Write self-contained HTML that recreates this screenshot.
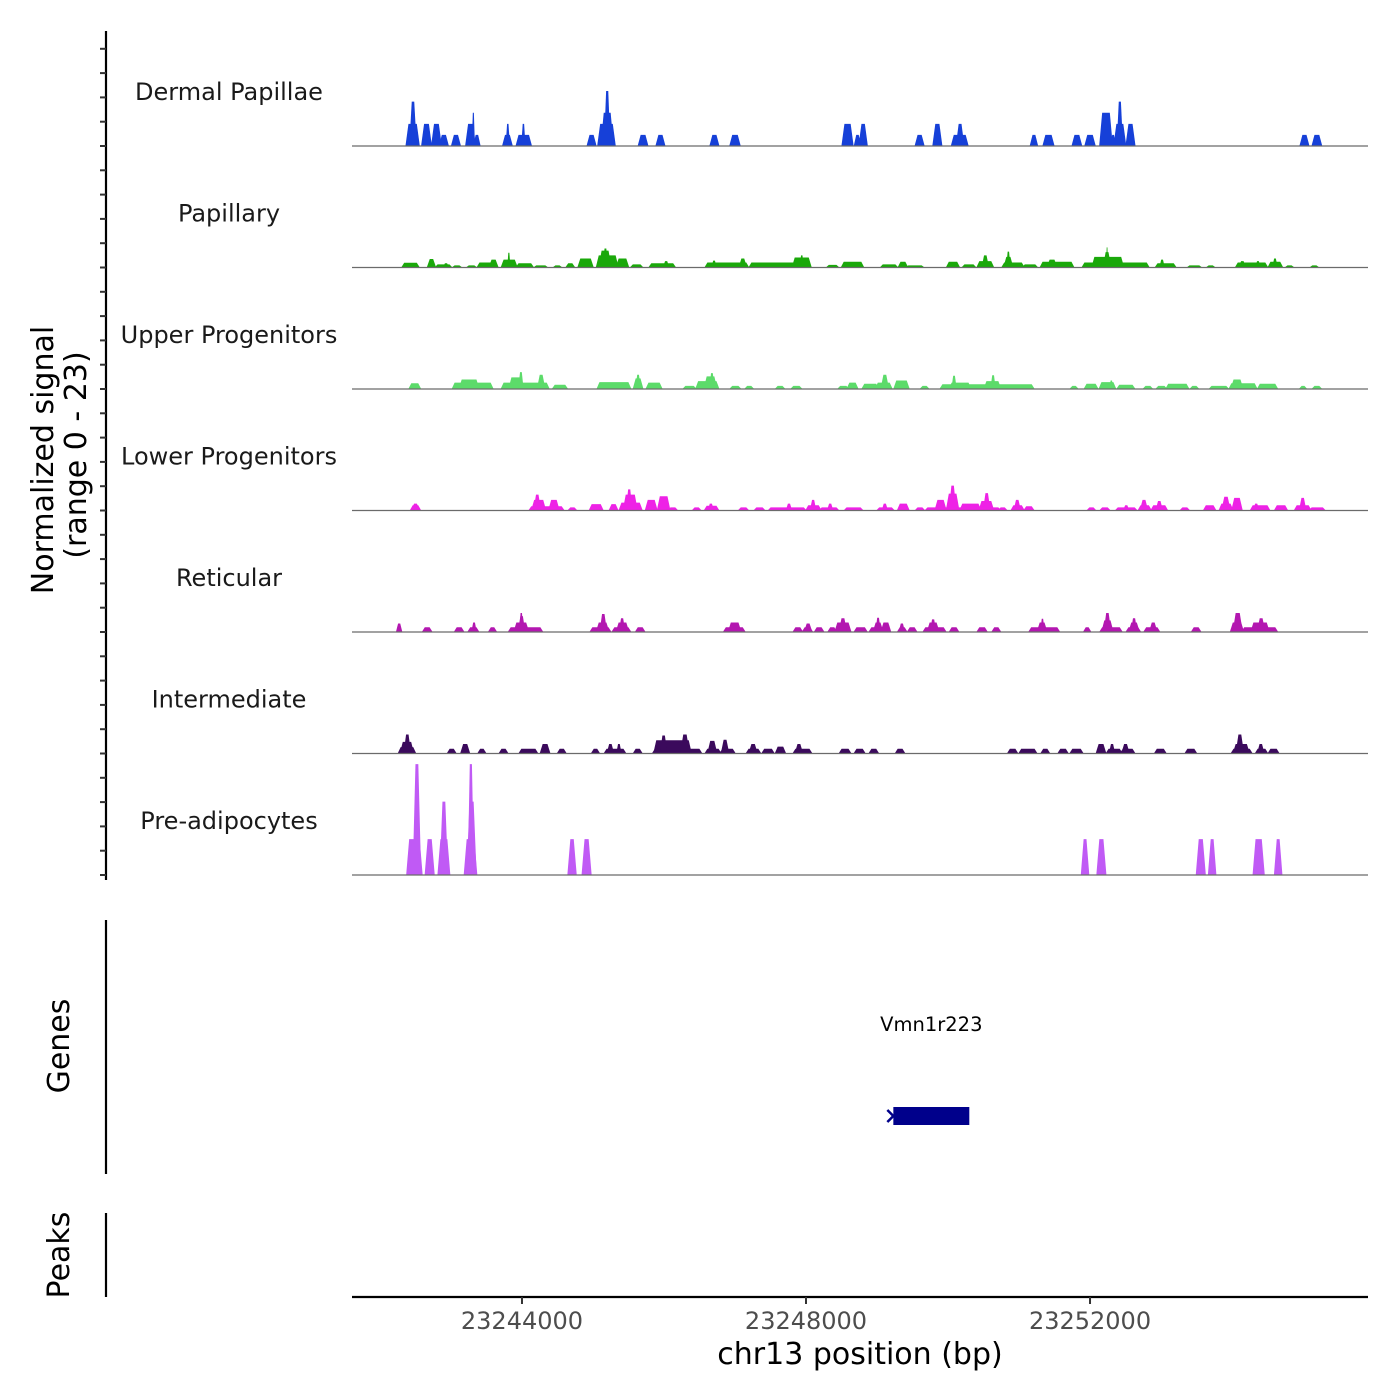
<!DOCTYPE html>
<html><head><meta charset="utf-8"><style>
html,body{margin:0;padding:0;background:#fff;}
svg{display:block;font-family:"DejaVu Sans","Liberation Sans",sans-serif;}
</style></head><body>
<svg id="chart" width="1400" height="1400" viewBox="0 0 1400 1400" xmlns="http://www.w3.org/2000/svg">
<g id="axes"></g>
<g id="tracks"></g>
<g id="genes"></g>
</svg>
<script>
// ---- data (positions in kb offset from 23,240,000 bp; values in normalized signal) ----
const regionStartKb = 1.606;
const regionEndKb = 15.915;
const baseBp = 23240000;
const xTicksBp = [23244000, 23248000, 23252000];
const yMax = 23;
const trackNames = ["Dermal Papillae","Papillary","Upper Progenitors","Lower Progenitors","Reticular","Intermediate","Pre-adipocytes"];
const trackColors = ["#1640d8","#1aa80a","#5cdb6a","#ee22e6","#b317b0","#3b0a5c","#c05af5"];

const dermalPapillae = [[2.38,2.54,4.2],[2.43,2.50,8.4],[2.60,2.71,4.2],[2.74,2.85,4.2],[2.85,2.95,2.1],[3.02,3.12,2.1],[3.22,3.33,4.2],[3.30,3.33,6.3],[3.33,3.40,2.1],[3.74,3.85,2.1],[3.78,3.82,4.2],[3.93,4.12,2.1],[4.00,4.04,4.2],[4.93,5.03,2.1],[5.08,5.30,4.2],[5.13,5.27,6.3],[5.17,5.23,10.4],[5.65,5.76,2.1],[5.90,6.00,2.1],[6.66,6.76,2.1],[6.94,7.06,2.1],[8.52,8.65,4.2],[8.69,8.76,2.1],[8.76,8.85,4.2],[9.55,9.65,2.1],[9.80,9.90,4.2],[10.06,10.27,2.1],[10.13,10.21,4.2],[11.17,11.25,2.1],[11.35,11.48,2.1],[11.76,11.87,2.1],[11.94,12.06,2.1],[12.15,12.30,6.3],[12.30,12.35,2.1],[12.35,12.49,4.2],[12.39,12.45,8.4],[12.52,12.62,4.2],[14.97,15.07,2.1],[15.14,15.25,2.1]];

const papillary = [[2.32,2.54,0.9],[2.68,2.77,1.6],[2.79,3.00,0.6],[2.90,2.96,0.8],[3.03,3.14,0.4],[3.23,3.35,0.4],[3.38,3.65,0.95],[3.55,3.65,1.5],[3.72,3.92,1.5],[3.80,3.83,2.8],[3.93,4.15,0.8],[4.18,4.35,0.4],[4.45,4.55,0.4],[4.63,4.73,0.8],[4.80,4.99,1.7],[5.06,5.34,2.3],[5.10,5.24,3.2],[5.15,5.20,3.6],[5.34,5.49,1.7],[5.54,5.69,0.6],[5.80,6.15,0.8],[6.00,6.06,1.2],[6.59,7.18,0.95],[6.68,6.73,1.3],[7.07,7.15,1.7],[7.21,8.06,0.95],[7.82,8.06,1.9],[7.92,7.96,2.3],[8.30,8.45,0.5],[8.51,8.80,1.1],[9.06,9.28,0.6],[9.31,9.42,1.1],[9.42,9.65,0.4],[9.99,10.15,1.1],[10.21,10.38,0.6],[10.42,10.63,1.2],[10.49,10.56,2.3],[10.77,11.06,0.95],[10.80,10.90,2.0],[10.83,10.87,3.0],[11.06,11.25,0.6],[11.31,11.76,1.1],[11.41,11.52,1.5],[11.90,12.82,0.95],[12.04,12.46,2.0],[12.20,12.28,2.9],[12.23,12.25,3.8],[12.93,13.20,0.8],[12.99,13.04,1.5],[13.38,13.56,0.4],[13.65,13.75,0.4],[14.06,14.49,0.95],[14.11,14.18,1.2],[14.34,14.39,1.2],[14.52,14.70,1.1],[14.58,14.63,1.7],[14.76,14.86,0.4],[15.11,15.21,0.4]];

const upperProgenitors = [[2.42,2.56,1.1],[3.03,3.58,1.2],[3.13,3.38,1.8],[3.72,4.37,1.2],[3.83,4.00,2.2],[3.96,4.01,3.2],[4.23,4.31,2.7],[4.44,4.63,0.8],[5.07,5.52,1.3],[5.58,5.69,2.0],[5.61,5.66,2.7],[5.76,5.96,1.2],[6.28,6.44,0.6],[6.46,6.76,1.5],[6.58,6.73,2.4],[6.65,6.70,3.0],[6.94,7.07,0.6],[7.15,7.25,0.6],[7.58,7.69,0.6],[7.80,7.93,0.6],[8.46,8.59,0.6],[8.59,8.72,1.2],[8.80,9.01,1.0],[8.99,9.20,1.2],[9.07,9.15,2.7],[9.25,9.44,1.6],[9.62,9.72,0.6],[9.90,11.20,0.9],[10.03,10.31,1.2],[10.06,10.11,2.5],[10.52,10.73,1.5],[10.61,10.66,2.6],[11.73,11.82,0.6],[11.93,12.10,1.0],[12.14,12.35,1.3],[12.28,12.32,1.6],[12.39,12.62,0.8],[12.76,12.87,0.6],[12.94,13.07,0.6],[13.08,13.38,1.0],[13.42,13.52,0.6],[13.69,13.94,0.6],[13.97,14.34,1.1],[14.00,14.14,1.8],[14.37,14.63,1.0],[14.96,15.04,0.6],[15.14,15.25,0.6]];

const lowerProgenitors = [[2.44,2.56,1.0],[2.46,2.54,1.3],[4.11,4.58,0.8],[4.15,4.32,2.0],[4.18,4.25,3.0],[4.39,4.51,2.0],[4.66,4.76,0.6],[4.96,5.13,1.2],[5.24,5.34,1.2],[5.38,5.68,1.5],[5.44,5.61,3.0],[5.48,5.54,4.0],[5.75,5.89,2.0],[5.92,6.07,2.7],[6.07,6.18,0.6],[6.41,6.51,0.6],[6.58,6.76,0.9],[6.63,6.69,1.3],[7.06,7.18,0.6],[7.28,7.41,0.6],[7.48,7.99,0.6],[7.73,7.79,1.3],[8.01,8.20,1.0],[8.07,8.13,2.0],[8.20,8.45,0.6],[8.31,8.37,1.3],[8.55,8.79,0.6],[9.01,9.23,0.6],[9.08,9.14,1.3],[9.30,9.44,1.3],[9.55,9.66,0.6],[9.69,10.73,0.6],[9.83,9.96,2.0],[9.99,10.14,3.2],[10.03,10.10,4.7],[10.18,10.45,1.3],[10.45,10.63,1.8],[10.51,10.58,3.3],[10.72,10.82,0.6],[10.90,11.06,1.0],[10.94,11.01,2.0],[11.08,11.20,0.8],[11.97,12.07,0.6],[12.15,12.27,0.6],[12.37,12.65,0.6],[12.48,12.54,1.0],[12.69,12.85,1.0],[12.72,12.80,2.0],[12.87,13.08,1.0],[12.94,13.01,1.8],[13.28,13.39,0.6],[13.61,13.76,1.0],[13.83,14.00,1.3],[13.87,13.96,2.6],[14.01,14.13,2.4],[14.27,14.52,1.0],[14.31,14.37,1.3],[14.61,14.77,1.0],[14.89,15.10,1.0],[14.96,15.03,2.4],[15.10,15.30,0.6]];

const reticular = [[2.24,2.30,1.6],[2.61,2.72,0.9],[3.06,3.17,0.9],[3.25,3.38,0.9],[3.30,3.35,1.8],[3.54,3.63,0.9],[3.82,4.28,0.9],[3.90,4.08,1.8],[3.96,4.03,3.0],[3.97,4.01,3.6],[4.97,5.24,0.9],[5.06,5.21,1.8],[5.11,5.18,3.4],[5.28,5.52,0.9],[5.34,5.49,1.8],[5.38,5.44,2.6],[5.61,5.72,0.9],[6.85,7.13,0.9],[6.92,7.07,1.8],[7.83,7.94,0.9],[7.96,8.08,0.9],[7.99,8.07,1.6],[8.13,8.24,0.9],[8.32,8.42,0.9],[8.42,8.62,1.8],[8.48,8.56,2.6],[8.69,8.85,0.9],[8.90,9.18,0.9],[8.96,9.07,1.8],[8.99,9.04,2.7],[9.07,9.18,1.8],[9.30,9.41,0.9],[9.32,9.38,1.6],[9.44,9.55,0.9],[9.66,9.96,0.9],[9.72,9.86,1.8],[9.76,9.82,2.4],[10.03,10.14,0.9],[10.42,10.54,0.9],[10.63,10.73,0.9],[11.15,11.56,0.9],[11.27,11.38,1.8],[11.31,11.35,2.5],[11.92,12.00,0.9],[12.15,12.44,0.9],[12.18,12.31,2.2],[12.21,12.28,3.6],[12.52,12.70,0.9],[12.56,12.68,1.8],[12.59,12.65,2.6],[12.77,12.97,0.9],[12.85,12.93,1.8],[13.44,13.55,0.9],[13.99,14.15,1.8],[14.03,14.13,3.6],[14.15,14.63,0.9],[14.28,14.51,1.8],[14.37,14.45,2.6]];

const intermediate = [[2.27,2.49,1.2],[2.30,2.46,2.2],[2.35,2.42,3.6],[2.96,3.06,0.9],[3.15,3.25,1.8],[3.39,3.48,0.9],[3.69,3.79,0.9],[3.97,4.21,0.9],[4.27,4.38,1.8],[4.51,4.61,0.9],[4.99,5.08,0.9],[5.17,5.45,0.9],[5.21,5.28,1.8],[5.34,5.39,1.8],[5.58,5.68,0.9],[5.85,6.52,0.9],[5.87,6.37,2.5],[5.96,6.03,3.4],[6.25,6.34,3.6],[6.59,6.79,0.9],[6.63,6.73,2.4],[6.80,6.99,0.9],[6.82,6.90,2.6],[7.17,7.35,0.9],[7.21,7.30,1.8],[7.39,7.54,0.9],[7.58,7.70,1.3],[7.83,8.07,0.9],[7.86,7.94,1.8],[8.48,8.62,0.9],[8.69,8.82,0.9],[8.90,9.01,0.9],[9.27,9.38,0.9],[10.85,10.97,0.9],[11.01,11.24,0.9],[11.32,11.42,0.9],[11.56,11.68,0.9],[11.73,11.89,0.9],[12.10,12.21,1.8],[12.24,12.44,0.9],[12.28,12.34,1.8],[12.44,12.62,0.9],[12.46,12.54,1.8],[12.92,13.06,0.9],[13.35,13.49,0.9],[14.00,14.27,0.9],[14.03,14.23,1.8],[14.07,14.15,3.6],[14.34,14.49,0.9],[14.37,14.44,1.8],[14.52,14.65,0.9]];

const preAdipocytes = [[2.39,2.58,6.8],[2.48,2.56,21],[2.65,2.75,6.8],[2.83,2.97,6.8],[2.86,2.94,13.9],[3.20,3.35,6.8],[3.24,3.34,13.9],[3.25,3.31,21],[4.66,4.75,6.8],[4.86,4.96,6.8],[11.89,11.97,6.8],[12.11,12.21,6.8],[13.51,13.61,6.8],[13.68,13.76,6.8],[14.31,14.44,6.8],[14.61,14.69,6.8]];

const trackData = [dermalPapillae, papillary, upperProgenitors, lowerProgenitors, reticular, intermediate, preAdipocytes];
const geneName = "Vmn1r223";
const geneStartKb = 9.23;
const geneEndKb = 10.30;

// ---- layout ----
const NS = "http://www.w3.org/2000/svg";
const plotL = 352, plotR = 1368;
const firstBase = 146, trackH = 121.5;
function xScale(kb){ return plotL + (kb - regionStartKb) / (regionEndKb - regionStartKb) * (plotR - plotL); }
function yScale(v, i){ return firstBase + i*trackH - v / yMax * trackH; }
function mk(tag, attrs, parent){ const e = document.createElementNS(NS, tag); for (const k in attrs) e.setAttribute(k, attrs[k]); parent.appendChild(e); return e; }

const axes = document.getElementById('axes');
const tracksG = document.getElementById('tracks');
const genesG = document.getElementById('genes');

// left signal axis
let ax = mk('line', {x1:106, y1:31, x2:106, y2:880, stroke:'#000', 'stroke-width':2.2}, axes);


for (let i = 0; i < 7; i++) {
  for (let k = 0; k < 5; k++) {
    const y = firstBase + i*trackH - k*trackH/5;
    const t = mk('line', {x1:100, y1:y, x2:106, y2:y, stroke:'#333', 'stroke-width':2}, axes);
    
    
  }
}
let yt = mk('text', {x:0, y:0, 'font-size':30, fill:'#000', 'text-anchor':'middle', transform:'translate(53,460) rotate(-90)'}, axes);
yt.textContent = 'Normalized signal';


let yt2 = mk('text', {x:0, y:0, 'font-size':30, fill:'#000', 'text-anchor':'middle', transform:'translate(86,455) rotate(-90)'}, axes);
yt2.textContent = '(range 0 - 23)';



// tracks
trackData.forEach((blocks, i) => {
  const g = mk('g', {}, tracksG);
  
  
  blocks.forEach(b => {
    const x0 = xScale(b[0]), x1 = xScale(b[1]);
    const y0 = yScale(0, i), y1 = yScale(b[2], i);
    const w = x1 - x0;
    const s = Math.min(1.5, w/4);
    const p = mk('polygon', {points:`${x0-s},${y0} ${x0+s},${y1} ${x1-s},${y1} ${x1+s},${y0}`, fill:trackColors[i]}, g);
    
    
  });
  const base = mk('line', {x1:plotL, x2:plotR, y1:yScale(0,i), y2:yScale(0,i), stroke:'#6b6b6b', 'stroke-width':1.2}, g);
  
  
  const lbl = mk('text', {x:229, y:firstBase + i*trackH - 46, 'font-size':24, fill:'#1a1a1a', 'text-anchor':'middle'}, g);
  lbl.textContent = trackNames[i];
  
  
});

// genes panel
let gl = mk('line', {x1:106, y1:920, x2:106, y2:1174, stroke:'#000', 'stroke-width':2.2}, genesG);


let gt = mk('text', {x:0, y:0, 'font-size':30, fill:'#000', 'text-anchor':'middle', transform:'translate(69,1046) rotate(-90)'}, genesG);
gt.textContent = 'Genes';


const gx0 = xScale(geneStartKb), gx1 = xScale(geneEndKb);
let gr = mk('rect', {x:gx0, y:1107, width:gx1-gx0, height:18, fill:'#00008b'}, genesG);


let ga = mk('path', {d:`M${gx0-6},${1110} L${gx0},${1116} L${gx0-6},${1122}`, stroke:'#00008b', 'stroke-width':2.5, fill:'none'}, genesG);


let gn = mk('text', {x:(gx0+gx1)/2, y:1031, 'font-size':19.5, fill:'#000', 'text-anchor':'middle'}, genesG);
gn.textContent = geneName;



// peaks panel
let pl = mk('line', {x1:106, y1:1213, x2:106, y2:1297, stroke:'#000', 'stroke-width':2.2}, genesG);


let pt = mk('text', {x:0, y:0, 'font-size':30, fill:'#000', 'text-anchor':'middle', transform:'translate(69,1255) rotate(-90)'}, genesG);
pt.textContent = 'Peaks';



// x axis
let xl = mk('line', {x1:plotL, y1:1297, x2:plotR, y2:1297, stroke:'#000', 'stroke-width':2.2}, axes);


xTicksBp.forEach(bp => {
  const x = xScale((bp - baseBp) / 1000);
  const t = mk('line', {x1:x, y1:1297, x2:x, y2:1304, stroke:'#333', 'stroke-width':2}, axes);
  
  
  const l = mk('text', {x:x, y:1329, 'font-size':24, fill:'#4d4d4d', 'text-anchor':'middle'}, axes);
  l.textContent = String(bp);
  
  
});
let xt = mk('text', {x:860, y:1364, 'font-size':30, fill:'#000', 'text-anchor':'middle'}, axes);
xt.textContent = 'chr13 position (bp)';


</script>
</body></html>
